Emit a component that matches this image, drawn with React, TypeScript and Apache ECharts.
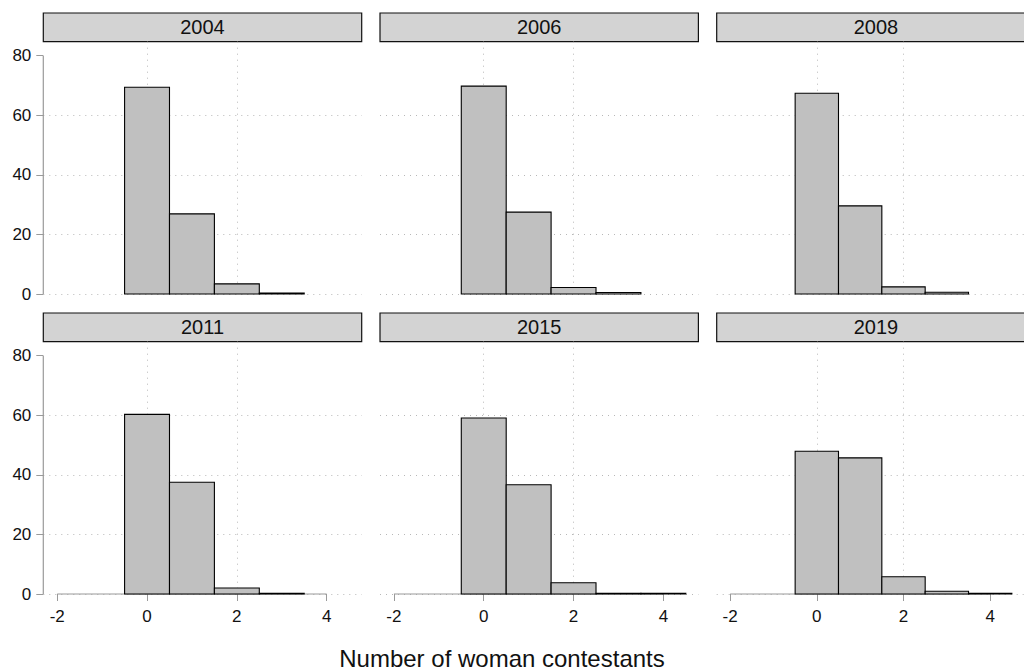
import React, { useEffect, useRef } from "react";
import * as echarts from "echarts";

// Percent of constituencies by number of woman contestants, per election year
const years = ["2004", "2006", "2008", "2011", "2015", "2019"];
const bins = [0, 1, 2, 3, 4];
const pct2004 = [69.4, 26.9, 3.4, 0.3];
const pct2006 = [69.8, 27.5, 2.2, 0.5];
const pct2008 = [67.4, 29.6, 2.4, 0.6];
const pct2011 = [60.3, 37.5, 2.0, 0.2];
const pct2015 = [59.1, 36.7, 3.8, 0.2, 0.2];
const pct2019 = [47.9, 45.7, 5.8, 0.9, 0.2];
const seriesByYear = [pct2004, pct2006, pct2008, pct2011, pct2015, pct2019];

const xTicks = [-2, 0, 2, 4];
const yTicks = [0, 20, 40, 60, 80];
const xTitle = "Number of woman contestants";

// Plot-region extent (the region is a little wider/taller than the tick range)
const X_MIN = -2.31;
const X_MAX = 4.78;
const Y_MAX = 84.7;

// Facet layout in pixels
const COL_LEFT = [43.3, 380, 716.7];
const ROW_TOP = [41.7, 341.7];
const PANEL_W = 318.4;
const PANEL_H = 252.3;
const STRIP_H = 28.7;

const FONT = "'Liberation Sans', Arial, Helvetica, sans-serif";
const AXIS_GRAY = "#9a9a9a";
const GRID_GRAY = "#b8b8b8";

export default function App() {
  const ref = useRef<HTMLDivElement>(null);

  useEffect(() => {
    if (!ref.current) return;
    const chart = echarts.init(ref.current, undefined, { renderer: "svg" });

    const grids: any[] = [];
    const xAxes: any[] = [];
    const yAxes: any[] = [];
    const series: any[] = [];
    const graphics: any[] = [];

    years.forEach((year, i) => {
      const row = Math.floor(i / 3);
      const col = i % 3;
      const bottomRow = row === 1;
      const firstCol = col === 0;
      const left = COL_LEFT[col];
      const top = ROW_TOP[row];

      grids.push({ left, top, width: PANEL_W, height: PANEL_H, containLabel: false });

      xAxes.push({
        gridIndex: i,
        type: "value",
        min: X_MIN,
        max: X_MAX,
        splitNumber: 4,
        axisLine: { show: false, onZero: false },
        axisTick: {
          show: bottomRow,
          customValues: xTicks,
          length: 7,
          lineStyle: { color: AXIS_GRAY, width: 1 },
        },
        axisLabel: {
          show: bottomRow,
          customValues: xTicks,
          fontSize: 17,
          fontFamily: FONT,
          color: "#111",
          margin: 14,
        },
        splitLine: {
          show: true,
          showMinLine: false,
          showMaxLine: false,
          lineStyle: { color: GRID_GRAY, width: 1, type: [1, 5] },
        },
      });

      yAxes.push({
        gridIndex: i,
        type: "value",
        min: 0,
        max: Y_MAX,
        interval: 20,
        axisLine: { show: false, onZero: false },
        axisTick: {
          show: firstCol,
          customValues: yTicks,
          length: 7,
          lineStyle: { color: AXIS_GRAY, width: 1 },
        },
        axisLabel: {
          show: firstCol,
          customValues: yTicks,
          fontSize: 17,
          fontFamily: FONT,
          color: "#111",
          margin: 12,
        },
        splitLine: {
          show: true,
          showMaxLine: false,
          lineStyle: { color: GRID_GRAY, width: 1, type: [1, 5] },
        },
      });

      // Axis lines spanning only the labelled tick range
      series.push({
        type: "custom",
        xAxisIndex: i,
        yAxisIndex: i,
        silent: true,
        z: 1,
        data: [[0, 0]],
        renderItem: (_params: any, api: any) => {
          const children: any[] = [];
          if (bottomRow) {
            const a = api.coord([xTicks[0], 0]);
            const b = api.coord([xTicks[xTicks.length - 1], 0]);
            children.push({
              type: "line",
              shape: { x1: a[0], y1: a[1], x2: b[0], y2: b[1] },
              style: { stroke: AXIS_GRAY, lineWidth: 1.2 },
            });
          }
          if (firstCol) {
            const a = api.coord([X_MIN, yTicks[0]]);
            const b = api.coord([X_MIN, yTicks[yTicks.length - 1]]);
            children.push({
              type: "line",
              shape: { x1: a[0], y1: a[1], x2: b[0], y2: b[1] },
              style: { stroke: AXIS_GRAY, lineWidth: 1.2 },
            });
          }
          return { type: "group", children };
        },
      });

      // Histogram bars, unit-width bins centred on each count
      const vals = seriesByYear[i];
      series.push({
        type: "custom",
        name: year,
        xAxisIndex: i,
        yAxisIndex: i,
        z: 3,
        encode: { x: 0, y: 1 },
        data: vals.map((v, k) => [bins[k], v]),
        renderItem: (_params: any, api: any) => {
          const x = api.value(0);
          const y = api.value(1);
          const p0 = api.coord([x - 0.5, y]);
          const p1 = api.coord([x + 0.5, 0]);
          return {
            type: "rect",
            shape: { x: p0[0], y: p0[1], width: p1[0] - p0[0], height: p1[1] - p0[1] },
            style: { fill: "#c0c0c0", stroke: "#000", lineWidth: 1.1 },
          };
        },
      });

      // Facet strip with the year
      graphics.push({
        type: "group",
        children: [
          {
            type: "rect",
            shape: { x: left, y: top - STRIP_H, width: PANEL_W, height: STRIP_H },
            style: { fill: "#d3d3d3", stroke: "#111", lineWidth: 1.2 },
          },
          {
            type: "text",
            x: left + PANEL_W / 2,
            y: top - STRIP_H / 2,
            style: {
              text: year,
              fontSize: 20,
              fontFamily: FONT,
              fill: "#111",
              align: "center",
              verticalAlign: "middle",
            },
          },
        ],
      });
    });

    graphics.push({
      type: "text",
      x: 502,
      y: 658,
      style: {
        text: xTitle,
        fontSize: 24,
        fontFamily: FONT,
        fill: "#111",
        align: "center",
        verticalAlign: "middle",
      },
    });

    chart.setOption({
      animation: false,
      backgroundColor: "#ffffff",
      grid: grids,
      xAxis: xAxes,
      yAxis: yAxes,
      series,
      graphic: graphics,
    });

    return () => chart.dispose();
  }, []);

  return (
    <div
      ref={ref}
      style={{ position: "absolute", left: 0, top: 0, width: 1024, height: 671, background: "#fff" }}
    />
  );
}
